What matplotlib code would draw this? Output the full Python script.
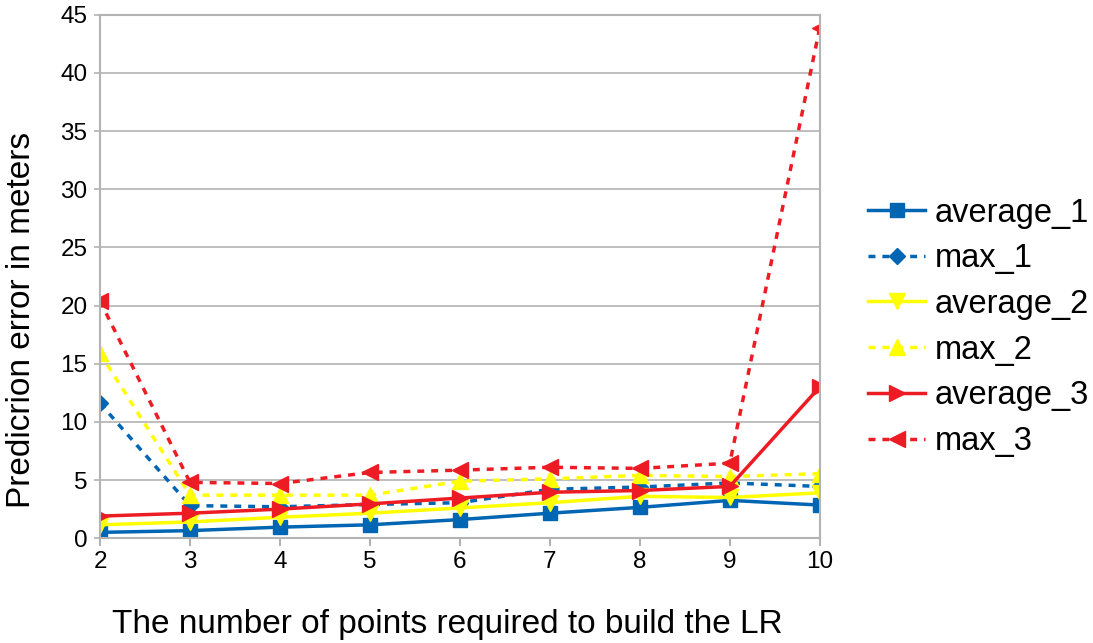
import numpy as np
import matplotlib.pyplot as plt

plt.rcParams['font.family'] = ['Liberation Sans', 'DejaVu Sans']

points = [2, 3, 4, 5, 6, 7, 8, 9, 10]
average_1 = [0.5, 0.65, 0.95, 1.15, 1.6, 2.15, 2.65, 3.25, 2.85]
max_1 = [11.6, 2.8, 2.7, 2.9, 3.05, 4.2, 4.4, 4.75, 4.45]
average_2 = [1.15, 1.4, 1.8, 2.15, 2.6, 3.05, 3.6, 3.5, 3.9]
max_2 = [15.9, 3.7, 3.7, 3.7, 4.9, 5.1, 5.4, 5.3, 5.55]
average_3 = [1.9, 2.15, 2.5, 2.95, 3.45, 3.95, 4.1, 4.45, 13.0]
max_3 = [20.4, 4.8, 4.7, 5.65, 5.85, 6.1, 6.0, 6.45, 43.9]

blue = '#0066b3'
yellow = '#ffff00'
red = '#ed1c24'

fig = plt.figure(figsize=(10.93, 6.43), dpi=100)
ax = fig.add_axes([0.0915, 0.163, 0.6585, 0.814])

ax.plot(points, average_1, color=blue, lw=2.5, marker='s', ms=10, label='average_1')
ax.plot(points, max_1, color=blue, lw=2.5, ls=(0, (2, 2)), marker='D', ms=8, label='max_1')
ax.plot(points, average_2, color=yellow, lw=2.5, marker='v', ms=12, label='average_2')
ax.plot(points, max_2, color=yellow, lw=2.5, ls=(0, (2, 2)), marker='^', ms=12, label='max_2')
ax.plot(points, average_3, color=red, lw=2.5, marker='>', ms=12, label='average_3')
ax.plot(points, max_3, color=red, lw=2.5, ls=(0, (2, 2)), marker='<', ms=12, label='max_3')

ax.set_xlim(2, 10)
ax.set_ylim(0, 45)
ax.set_xticks(points)
ax.set_yticks(np.arange(0, 46, 5))
ax.tick_params(axis='both', labelsize=17.5, colors='#b3b3b3', labelcolor='black')
ax.tick_params(axis='x', length=6, width=1.5, pad=3)
ax.tick_params(axis='y', length=4, width=1.2, pad=5)
ax.grid(axis='y', color='#b3b3b3', lw=1.2)
ax.set_axisbelow(True)
for s in ax.spines.values():
    s.set_color('#b3b3b3')
    s.set_linewidth(1.5)

ax.set_xlabel('The number of points required to build the LR', fontsize=24, labelpad=24)
ax.xaxis.set_label_coords(0.483, -0.135)
ax.set_ylabel('Predicrion error in meters', fontsize=24)
ax.yaxis.set_label_coords(-0.088, 0.417)

ax.legend(loc='center left', bbox_to_anchor=(1.067, 0.403), frameon=False, fontsize=23.5,
          handlelength=1.75, labelspacing=0.45, handletextpad=0.3,
          borderaxespad=0, borderpad=0)

fig.savefig('out.png', dpi=100)
